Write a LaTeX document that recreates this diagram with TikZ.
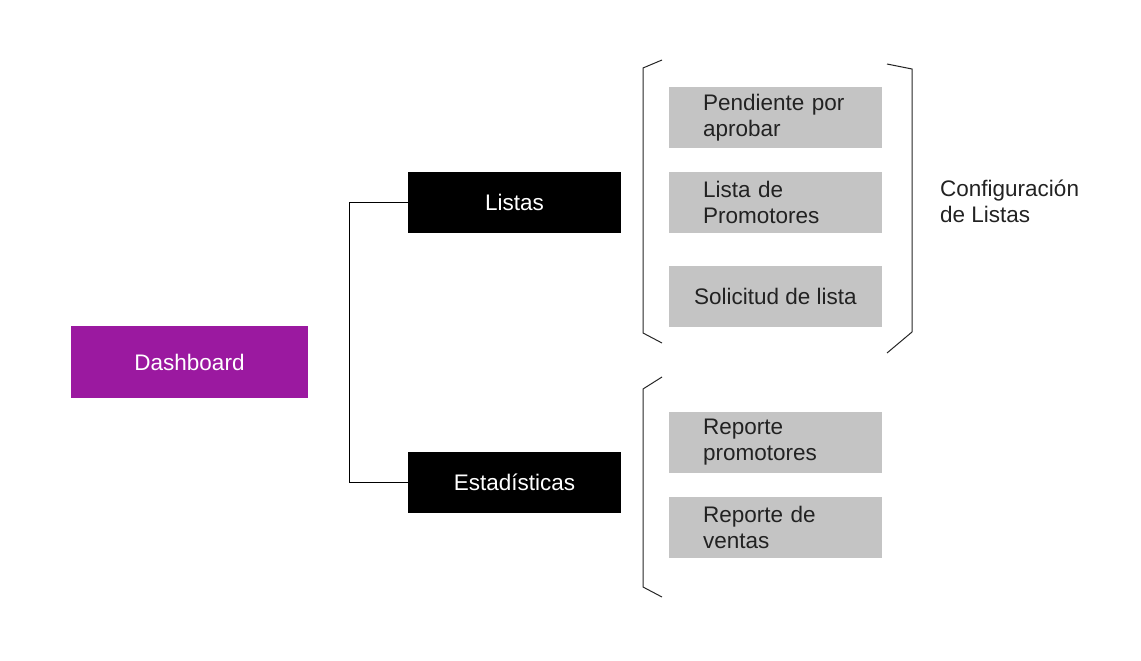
\documentclass[tikz,border=0pt]{standalone}
\usepackage{fontspec}
\setmainfont{Liberation Sans}
\definecolor{dashpurple}{RGB}{155,25,160}
\definecolor{boxgray}{RGB}{196,196,196}
\definecolor{txtdark}{RGB}{34,34,34}
\newcommand{\diagfont}{\fontsize{22.5}{26}\selectfont}
\tikzset{
  basebox/.style={rectangle, inner sep=0pt, minimum width=213pt, minimum height=61pt,
    font=\diagfont},
  darkbox/.style={basebox, fill=black, text=white},
  dashbox/.style={rectangle, inner sep=0pt, minimum width=237pt, minimum height=72pt,
    fill=dashpurple, text=white, font=\diagfont},
  graybox/.style={basebox, fill=boxgray, text=txtdark},
  grayleft/.style={graybox, text width=145pt, align=left},
  bracket/.style={draw=black!85, line width=1pt},
  conn/.style={draw=black, line width=1.2pt},
  label/.style={text=txtdark, align=left, inner sep=0pt, font=\diagfont}
}
\begin{document}
\begin{tikzpicture}[x=1pt,y=-1pt]
\useasboundingbox (0,0) rectangle (1141,661);
\node[dashbox] (dash) at (189.5,362) {Dashboard};
\node[darkbox] (listas) at (514.5,202.5) {Listas};
\node[darkbox] (estad) at (514.5,482.5) {Estadísticas};
\node[grayleft] (pend) at (775.5,117.5) {Pendiente por\\aprobar};
\node[grayleft] (lpro) at (775.5,202.5) {Lista de\\Promotores};
\node[graybox] (soli) at (775.5,296.5) {Solicitud de lista};
\node[grayleft] (rpro) at (775.5,442.5) {Reporte\\promotores};
\node[grayleft] (rven) at (775.5,527.5) {Reporte de\\ventas};
\node[label, anchor=west] (conf) at (940,201) {Configuración\\de Listas};
\draw[conn] (listas.west) -- ++(-58,0) |- (estad.west);
% brackets
\draw[bracket] (662,60) -- (643,68) -- (643,333) -- (662,343);
\draw[bracket] (887,64) -- (912,69) -- (912,332) -- (887,353);
\draw[bracket] (662,377) -- (643,389) -- (643,587) -- (662,597);
\end{tikzpicture}
\end{document}
